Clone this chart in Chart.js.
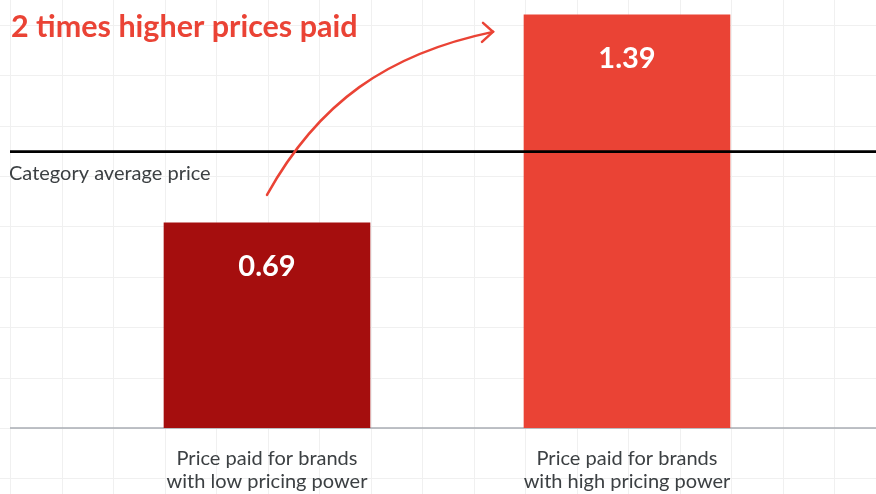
<!DOCTYPE html>
<html>
<head>
<meta charset="utf-8">
<script src="https://cdn.jsdelivr.net/npm/chart.js@4.4.1/dist/chart.umd.min.js"></script>
<style>
  html, body { margin: 0; padding: 0; background: #fff; }
  #grafico { display: block; }
</style>
</head>
<body>
<canvas id="grafico" width="876" height="494"></canvas>
<script>
// dados do gráfico
const categorias = [
  ["Price paid for brands", "with low pricing power"],
  ["Price paid for brands", "with high pricing power"]
];
const precos = [0.69, 1.39];
const coresBarras = ["#a50e0e", "#ea4335"];
const mediaCategoria = 0.93;
const titulo = "2 times higher prices paid";
const rotuloMedia = "Category average price";

const vermelho = "#ea4335";
const textoCinza = "#3c4043";

// papel quadriculado no fundo + linha do eixo
const fundoPlugin = {
  id: "fundo",
  beforeDraw(chart) {
    const ctx = chart.ctx;
    const W = chart.width, H = chart.height;
    const base = chart.scales.y.getPixelForValue(0);
    ctx.save();
    ctx.fillStyle = "#fff";
    ctx.fillRect(0, 0, W, H);
    ctx.strokeStyle = "#f0f0f0";
    ctx.lineWidth = 1;
    ctx.beginPath();
    for (let x = 10; x < W; x += 51.5) {
      ctx.moveTo(Math.round(x) + 0.5, 0);
      ctx.lineTo(Math.round(x) + 0.5, H);
    }
    for (let y = base + 50.4; y > 0; y -= 50.4) {
      ctx.moveTo(0, Math.round(y) + 0.5);
      ctx.lineTo(W, Math.round(y) + 0.5);
    }
    ctx.stroke();
    // eixo x
    ctx.strokeStyle = "#a8adb3";
    ctx.lineWidth = 1.5;
    ctx.beginPath();
    ctx.moveTo(10, base);
    ctx.lineTo(W, base);
    ctx.stroke();
    ctx.restore();
  }
};

// linha de média, seta, título e valores das barras
const anotacoesPlugin = {
  id: "anotacoes",
  afterDatasetsDraw(chart) {
    const ctx = chart.ctx;
    const W = chart.width;
    const yMedia = chart.scales.y.getPixelForValue(mediaCategoria);
    ctx.save();

    // linha da média
    ctx.strokeStyle = "#000";
    ctx.lineWidth = 2.6;
    ctx.beginPath();
    ctx.moveTo(10, yMedia);
    ctx.lineTo(W, yMedia);
    ctx.stroke();

    ctx.fillStyle = textoCinza;
    ctx.font = "20px Lato";
    ctx.textBaseline = "alphabetic";
    ctx.textAlign = "left";
    ctx.fillText(rotuloMedia, 9, yMedia + 28);

    // valores dentro das barras
    const meta = chart.getDatasetMeta(0);
    ctx.fillStyle = "#fff";
    ctx.font = "bold 29px Lato";
    ctx.textAlign = "center";
    ctx.textBaseline = "middle";
    meta.data.forEach((bar, i) => {
      ctx.fillText(precos[i].toFixed(2), bar.x, bar.y + 44);
    });

    // seta curva
    const b0 = meta.data[0], b1 = meta.data[1];
    const x0 = b0.x, y0 = b0.y - 28;
    const x1 = b1.x - b1.width / 2 - 31, y1 = b1.y + 17;
    ctx.strokeStyle = vermelho;
    ctx.lineWidth = 2.5;
    ctx.lineCap = "round";
    ctx.beginPath();
    ctx.moveTo(x0, y0);
    ctx.bezierCurveTo(x0 + 51, y0 - 92, x1 - 106, y1 + 22, x1, y1);
    ctx.stroke();
    ctx.beginPath();
    ctx.moveTo(x1 - 10, y1 - 9);
    ctx.lineTo(x1, y1);
    ctx.lineTo(x1 - 11, y1 + 10);
    ctx.stroke();

    // título
    ctx.fillStyle = vermelho;
    ctx.font = "bold 30.5px Lato";
    ctx.textAlign = "left";
    ctx.textBaseline = "alphabetic";
    ctx.fillText(titulo, 11, 37);

    ctx.restore();
  }
};

const ctx = document.getElementById("grafico").getContext("2d");
new Chart(ctx, {
  type: "bar",
  data: {
    labels: categorias,
    datasets: [{
      data: precos,
      backgroundColor: coresBarras,
      borderWidth: 0,
      barThickness: 206
    }]
  },
  options: {
    responsive: false,
    animation: false,
    devicePixelRatio: 1,
    layout: { padding: { left: 87, right: 69, top: 0, bottom: 0 } },
    plugins: {
      legend: { display: false },
      tooltip: { enabled: false }
    },
    scales: {
      x: {
        grid: { display: false, drawTicks: false },
        border: { display: false },
        ticks: {
          color: textoCinza,
          padding: 19,
          font: { family: "Lato", size: 20, lineHeight: 1.15 }
        },
        afterFit(axis) { axis.height = 66; }
      },
      y: {
        display: false,
        min: 0,
        max: 1.44
      }
    }
  },
  plugins: [fundoPlugin, anotacoesPlugin]
});
</script>
</body>
</html>
